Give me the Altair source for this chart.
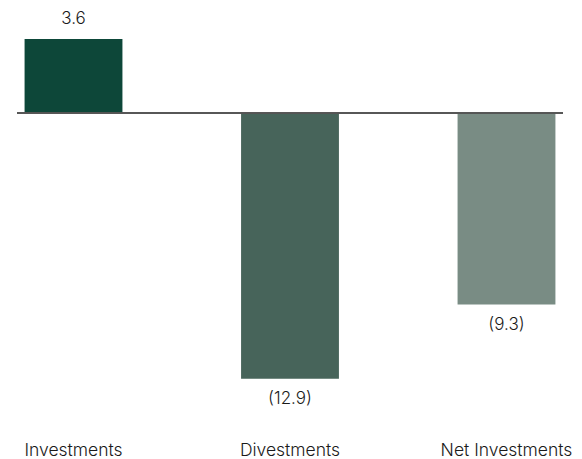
import altair as alt
import pandas as pd

categories = ["Investments", "Divestments", "Net Investments"]
values = [3.6, -12.9, -9.3]
labels = ["3.6", "(12.9)", "(9.3)"]
colors = ["#0D4739", "#47645A", "#798C84"]

df = pd.DataFrame({"cat": categories, "val": values, "lab": labels, "zero": [0.0, 0.0, 0.0]})

yscale = alt.Scale(domain=[-15, 5.1], nice=False, zero=False)

x = alt.X("cat:N", sort=categories,
          scale=alt.Scale(paddingInner=0.548, paddingOuter=0.035),
          axis=alt.Axis(title=None, domain=False, ticks=False, labelAngle=0,
                        labelFont="Inter", labelFontSize=17.5, labelFontWeight=300,
                        labelColor="#1a1a1a", labelPadding=19, labelBaseline="top"))
y = alt.Y("val:Q", scale=yscale, axis=None)

base = alt.Chart(df)

bars = base.mark_bar().encode(
    x=x, y=y, y2="zero:Q",
    color=alt.Color("cat:N", scale=alt.Scale(domain=categories, range=colors), legend=None),
)

rule = base.mark_rule(color="#555555", strokeWidth=1.5).encode(
    x=alt.value(0), x2=alt.value(546), y=alt.Y("zero:Q", scale=yscale, axis=None))

pos = base.mark_text(
    font="Inter", fontSize=17, fontWeight=300, color="#1a1a1a", baseline="middle", dy=-20
).encode(x=x, y=y, text=alt.condition("datum.val >= 0", "lab:N", alt.value("")))
neg = base.mark_text(
    font="Inter", fontSize=17, fontWeight=300, color="#1a1a1a", baseline="middle", dy=20
).encode(x=x, y=y, text=alt.condition("datum.val < 0", "lab:N", alt.value("")))

chart = alt.layer(bars, rule, pos, neg).properties(
    width=546, height=414,
    padding={"left": 8, "top": 0, "right": 0, "bottom": 0},
).configure_view(stroke=None)

chart.save("out.html", embed_options={"renderer": "svg", "actions": False})
